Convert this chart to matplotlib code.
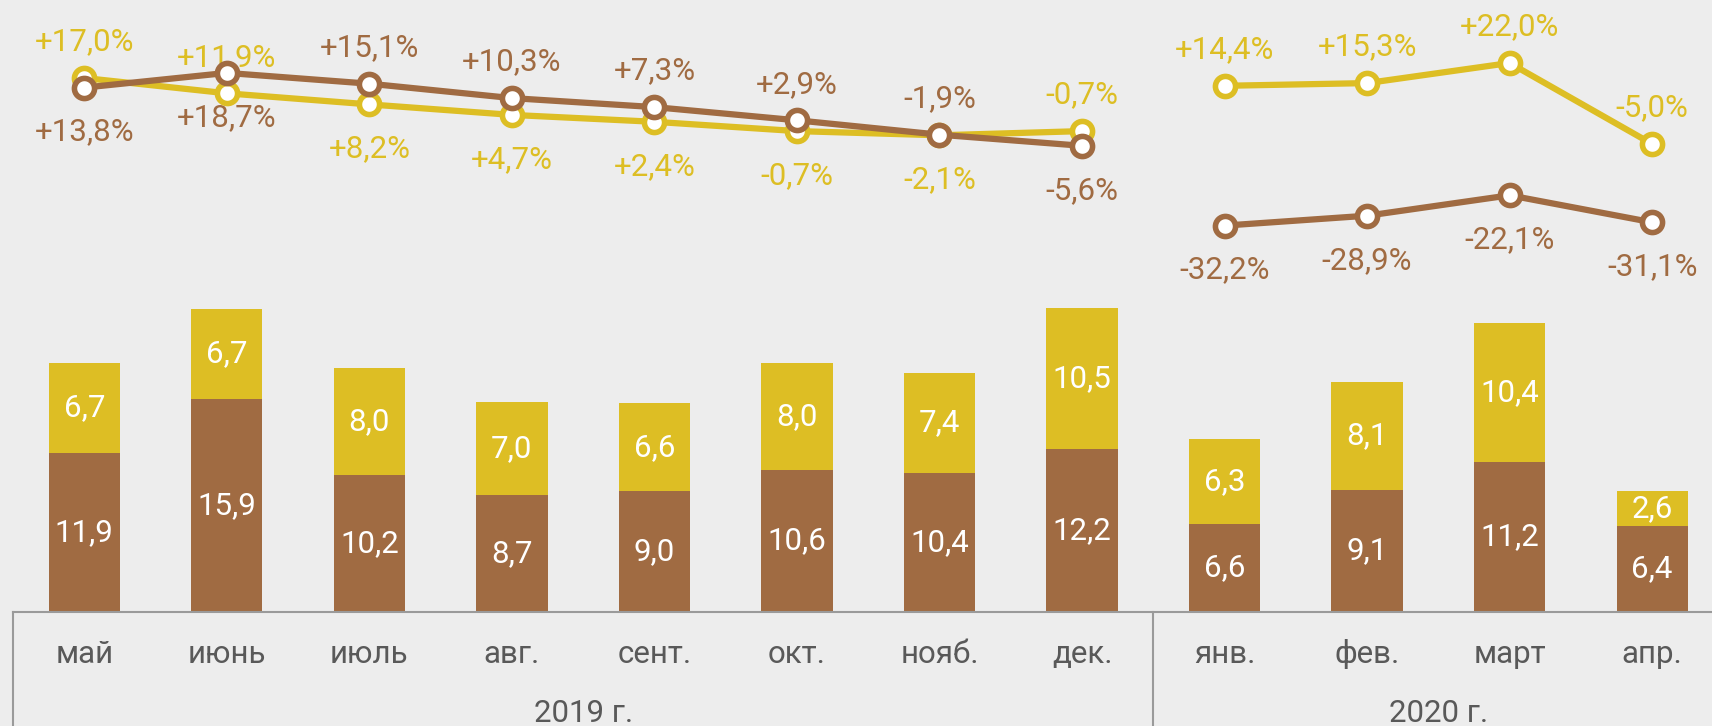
import matplotlib
matplotlib.use("Agg")
import matplotlib.pyplot as plt

plt.rcParams['font.family'] = ['Roboto', 'DejaVu Sans']

months = ["май", "июнь", "июль", "авг.", "сент.", "окт.", "нояб.", "дек.",
          "янв.", "фев.", "март", "апр."]
years = ["2019 г.", "2020 г."]
year_spans = [(0, 7), (8, 11)]  # first and last month index of each year

brown_vals = [11.9, 15.9, 10.2, 8.7, 9.0, 10.6, 10.4, 12.2, 6.6, 9.1, 11.2, 6.4]
yellow_vals = [6.7, 6.7, 8.0, 7.0, 6.6, 8.0, 7.4, 10.5, 6.3, 8.1, 10.4, 2.6]

brown_pct = [13.8, 18.7, 15.1, 10.3, 7.3, 2.9, -1.9, -5.6, -32.2, -28.9, -22.1, -31.1]
yellow_pct = [17.0, 11.9, 8.2, 4.7, 2.4, -0.7, -2.1, -0.7, 14.4, 15.3, 22.0, -5.0]

# where the yellow % label goes (+1 above the point, -1 below); brown is opposite
yellow_side = [1, 1, -1, -1, -1, -1, -1, 1, 1, 1, 1, 1]

BROWN = "#A06B42"
YELLOW = "#DDBE24"
BG = "#EDEDED"
GREY = "#595959"
AXIS = "#9A9A9A"
FS = 22.5

fig = plt.figure(figsize=(17.12, 7.26), dpi=100, facecolor=BG)
ax = fig.add_axes([13 / 1712, 114 / 726, 1699 / 1712, 612 / 726])
ax.set_facecolor(BG)

x = list(range(len(months)))

# stacked bars
ax.bar(x, brown_vals, width=0.5, color=BROWN, zorder=2)
ax.bar(x, yellow_vals, width=0.5, bottom=brown_vals, color=YELLOW, zorder=2)

for i in x:
    ax.text(i, brown_vals[i] / 2, f"{brown_vals[i]:.1f}".replace(".", ","),
            ha="center", va="center", color="white", fontsize=FS, zorder=3)
    ax.text(i, brown_vals[i] + yellow_vals[i] / 2,
            f"{yellow_vals[i]:.1f}".replace(".", ","),
            ha="center", va="center", color="white", fontsize=FS, zorder=3)

ax.set_xlim(-0.5, 11.42)
ax.set_ylim(0, 612 / 13.4)
ax.set_xticks([])
ax.set_yticks([])
for s in ["top", "left", "right"]:
    ax.spines[s].set_visible(False)
ax.spines["bottom"].set_color(AXIS)
ax.spines["bottom"].set_linewidth(1.5)

# month and year labels under the axis
for i, m in enumerate(months):
    ax.annotate(m, xy=(i, 0), xycoords=("data", "axes fraction"),
                xytext=(0, -36.5), textcoords="offset points",
                ha="center", va="baseline", fontsize=FS, color=GREY)

for name, (a, b) in zip(years, year_spans):
    ax.annotate(name, xy=((a + b) / 2, 0), xycoords=("data", "axes fraction"),
                xytext=(0, -79), textcoords="offset points",
                ha="center", va="baseline", fontsize=FS, color=GREY)

# vertical separators of the year boxes
for xs in [-0.5, 7.5]:
    ax.plot([xs, xs], [0, -114 / 612], transform=ax.get_xaxis_transform(),
            color=AXIS, lw=1.5, clip_on=False)

# lines on their own scale
ax2 = ax.twinx()
ax2.set_ylim(-161, 43)
ax2.set_yticks([])
for s in ax2.spines.values():
    s.set_visible(False)

for seg in [slice(0, 8), slice(8, 12)]:
    ax2.plot(x[seg], yellow_pct[seg], color=YELLOW, lw=4.5, marker="o", ms=14.5,
             mfc="white", mec=YELLOW, mew=4, zorder=3)
    ax2.plot(x[seg], brown_pct[seg], color=BROWN, lw=4.5, marker="o", ms=14.5,
             mfc="white", mec=BROWN, mew=4, zorder=4)


def pct_text(v):
    s = f"{v:+.1f}%".replace(".", ",")
    return s


for i in x:
    side = yellow_side[i]
    ax2.annotate(pct_text(yellow_pct[i]), xy=(i, yellow_pct[i]),
                 xytext=(0, 29 * side - 3), textcoords="offset points",
                 ha="center", va="center", fontsize=FS, color=YELLOW, zorder=1)
    ax2.annotate(pct_text(brown_pct[i]), xy=(i, brown_pct[i]),
                 xytext=(0, -29 * side - 3), textcoords="offset points",
                 ha="center", va="center", fontsize=FS, color=BROWN, zorder=1)

plt.savefig("out.png", dpi=100, facecolor=BG)
